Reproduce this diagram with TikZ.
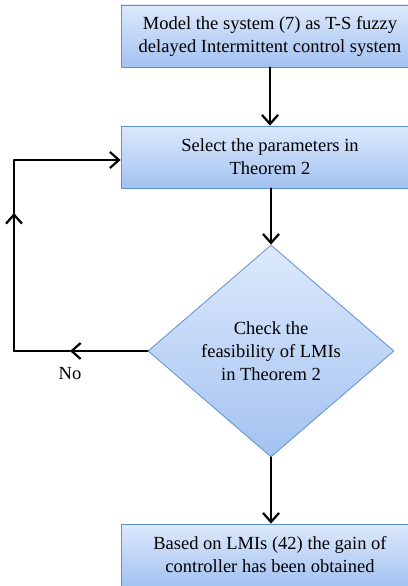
\documentclass[tikz,border=0pt]{standalone}
\usepackage{fontspec}
\setmainfont{Liberation Serif}
\usetikzlibrary{shapes.geometric,arrows.meta}
\definecolor{boxtop}{HTML}{DDE9FC}
\definecolor{boxbot}{HTML}{A3C2F1}
\definecolor{boxline}{HTML}{5F8FD2}
\tikzset{
  stepbox/.style={draw=boxline, line width=0.8pt, top color=boxtop, bottom color=boxbot,
    minimum width=298pt, minimum height=62pt, inner sep=0pt, align=center},
  checkbox/.style={diamond, draw=boxline, line width=0.8pt, top color=boxtop, bottom color=boxbot,
    minimum width=246pt, minimum height=212pt, inner sep=0pt, align=center},
  flowline/.style={line width=2.2pt},
  flow/.style={flowline, -{Straight Barb[length=9pt,width=16pt]}},
}
\begin{document}
\begin{tikzpicture}[x=1pt, y=-1pt, font=\fontsize{18.5}{23}\selectfont, line join=round, line cap=round]
  \useasboundingbox (0,0) rectangle (407,586);
  \node[stepbox] (model) at (270,36) {Model the system (7) as T-S fuzzy\\delayed Intermittent control system};
  \node[stepbox] (select) at (270,157) {Select the parameters in\\Theorem 2};
  \node[checkbox] (check) at (271,351) {Check the\\feasibility of LMIs\\in Theorem 2};
  \node[stepbox] (gain) at (270,555) {Based on LMIs (42) the gain of\\controller has been obtained};
  \node (no) at (70,374) {No};
  \coordinate (corner) at (14,351);
  \coordinate (up) at (14,213);
  \coordinate (back) at (14,160);
  % main flow
  \draw[flow] (model) -- (select);
  \draw[flow] (select.south -| check) -- (check.north);
  \draw[flow] (check.south) -- (check.south |- gain.north);
  % loop back
  \draw[flow] (check.west) -- (no.north |- check.west);
  \draw[flowline] (no.north |- check.west) -- (corner);
  \draw[flow] (corner) -- (up);
  \draw[flow] (up) -- (back) -- (back -| select.west);
\end{tikzpicture}
\end{document}
